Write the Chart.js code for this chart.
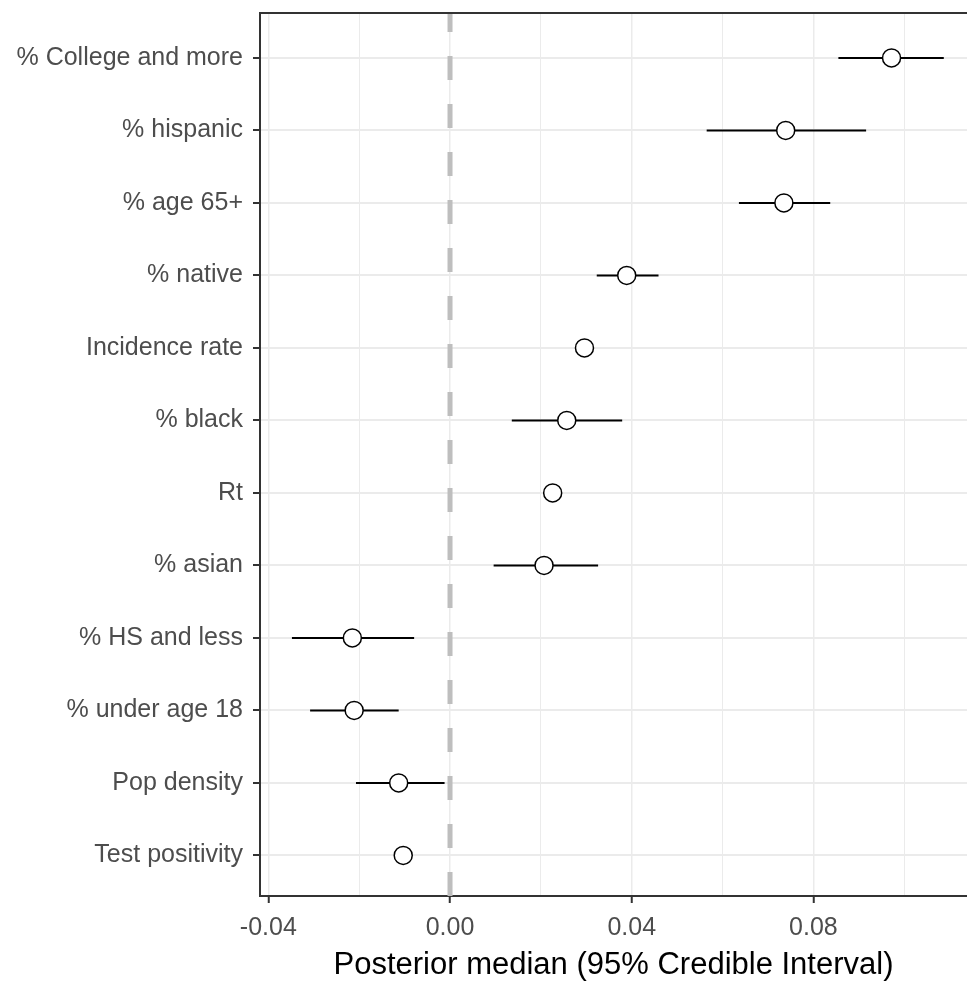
<!DOCTYPE html>
<html>
<head>
<meta charset="utf-8">
<script src="https://cdn.jsdelivr.net/npm/chart.js@4"></script>
<style>
    html, body { margin: 0; padding: 0; background: #ffffff; overflow: hidden; }
    #forest-chart { display: block; }
</style>
</head>
<body>
<canvas id="forest-chart" width="967" height="981"></canvas>
<script>
// Chart data (top row first)
const categories = [
    '% College and more', '% hispanic', '% age 65+', '% native',
    'Incidence rate', '% black', 'Rt', '% asian',
    '% HS and less', '% under age 18', 'Pop density', 'Test positivity'
];
const medians = [0.0972, 0.0739, 0.0735, 0.0389, 0.0296, 0.0257, 0.0226, 0.0207, -0.0215, -0.0211, -0.0113, -0.0103];
const lowers  = [0.0855, 0.0565, 0.0636, 0.0323, 0.0282, 0.0136, 0.0212, 0.0096, -0.0348, -0.0308, -0.0207, -0.0116];
const uppers  = [0.1087, 0.0916, 0.0837, 0.0459, 0.0310, 0.0379, 0.0240, 0.0326, -0.0079, -0.0113, -0.0012, -0.0090];

// Axis ticks and limits
const xMajorTicks = [-0.04, 0.00, 0.04, 0.08];
const xMinorTicks = [-0.02, 0.02, 0.06, 0.10];
const xLimits = [-0.04183, 0.11381];
const yLimits = [0.44, 12.62];
const referenceValue = 0;

const FONT = "'Liberation Sans', Arial, sans-serif";

// row 1 sits at the bottom, so the first category gets the largest position
function rowPosition(i) {
    return categories.length - i;
}

function isMajor(value) {
    return xMajorTicks.some(t => Math.abs(t - value) < 1e-9);
}

// keep the axis boxes at fixed sizes, no extra label padding
function fixBox(scale, size) {
    if (scale.isHorizontal()) scale.height = size;
    else scale.width = size;
    scale.paddingTop = 0;
    scale.paddingBottom = 0;
    scale.paddingLeft = 0;
    scale.paddingRight = 0;
}

// Datasets
const intervalSets = categories.map((name, i) => ({
    type: 'line',
    label: name,
    data: [
        { x: lowers[i], y: rowPosition(i) },
        { x: uppers[i], y: rowPosition(i) }
    ],
    borderColor: '#000000',
    borderWidth: 2,
    pointRadius: 0,
    order: 1
}));

const pointSet = {
    type: 'scatter',
    label: 'median',
    data: medians.map((m, i) => ({ x: m, y: rowPosition(i) })),
    pointRadius: 9,
    pointBorderWidth: 1.5,
    pointBorderColor: '#000000',
    pointBackgroundColor: '#ffffff',
    order: 0
};

const zeroLineSet = {
    type: 'line',
    label: 'zero',
    data: [
        { x: referenceValue, y: yLimits[0] },
        { x: referenceValue, y: yLimits[1] }
    ],
    borderColor: '#bebebe',
    borderWidth: 5,
    borderDash: [24, 24],
    pointRadius: 0,
    order: 2
};

// Panel border on top (left and bottom come from the axes)
const topBorder = {
    id: 'topBorder',
    afterDatasetsDraw(chart) {
        const { ctx, chartArea } = chart;
        ctx.save();
        ctx.strokeStyle = '#333333';
        ctx.lineWidth = 2;
        ctx.beginPath();
        ctx.moveTo(chartArea.left - 1, chartArea.top);
        ctx.lineTo(chartArea.right, chartArea.top);
        ctx.stroke();
        ctx.restore();
    }
};

const chart = new Chart(document.getElementById('forest-chart'), {
    type: 'scatter',
    data: { datasets: [pointSet, ...intervalSets, zeroLineSet] },
    plugins: [topBorder],
    options: {
        responsive: false,
        animation: false,
        devicePixelRatio: 1,
        layout: { autoPadding: false, padding: { top: 13, right: 0, bottom: 0, left: 0 } },
        plugins: {
            legend: { display: false },
            tooltip: { enabled: false }
        },
        scales: {
            x: {
                type: 'linear',
                min: xLimits[0],
                max: xLimits[1],
                bounds: 'data',
                afterBuildTicks: (scale) => {
                    scale.ticks = [...xMajorTicks, ...xMinorTicks]
                        .sort((a, b) => a - b)
                        .map(v => ({ value: v }));
                },
                afterFit: (scale) => fixBox(scale, 85),
                ticks: {
                    autoSkip: false,
                    maxRotation: 0,
                    padding: 10,
                    color: '#4d4d4d',
                    font: { family: FONT, size: 25 },
                    callback: (value) => isMajor(value) ? value.toFixed(2) : ''
                },
                grid: {
                    color: '#ebebeb',
                    lineWidth: (ctx) => isMajor(ctx.tick.value) ? 1.5 : 1,
                    tickLength: 7,
                    tickWidth: 2,
                    tickColor: (ctx) => isMajor(ctx.tick.value) ? '#333333' : 'rgba(0,0,0,0)'
                },
                border: { display: true, color: '#333333', width: 2 },
                title: {
                    display: true,
                    text: 'Posterior median (95% Credible Interval)',
                    color: '#000000',
                    font: { family: FONT, size: 31, lineHeight: 1.0 },
                    padding: { top: 0, bottom: 0 }
                }
            },
            y: {
                type: 'linear',
                min: yLimits[0],
                max: yLimits[1],
                bounds: 'data',
                afterBuildTicks: (scale) => {
                    scale.ticks = categories.map((c, i) => ({ value: rowPosition(i) }));
                },
                afterFit: (scale) => fixBox(scale, 260),
                ticks: {
                    autoSkip: false,
                    padding: 10,
                    color: '#4d4d4d',
                    font: { family: FONT, size: 25 },
                    callback: (value) => categories[categories.length - value]
                },
                grid: {
                    color: '#ebebeb',
                    lineWidth: 2,
                    tickLength: 7,
                    tickWidth: 2,
                    tickColor: '#333333'
                },
                border: { display: true, color: '#333333', width: 2 }
            }
        }
    }
});
</script>
</body>
</html>
